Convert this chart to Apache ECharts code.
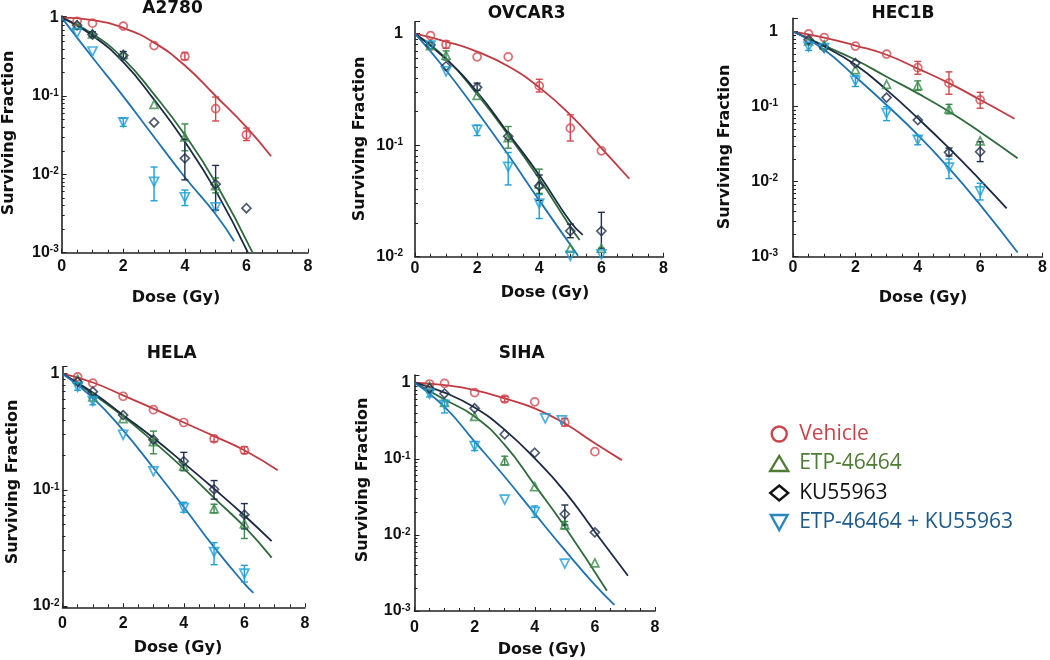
<!DOCTYPE html>
<html>
<head>
<meta charset="utf-8">
<title>Surviving fraction</title>
<script src="https://cdn.jsdelivr.net/npm/echarts@6/dist/echarts.min.js"></script>
<style>
html, body { margin: 0; padding: 0; background: #fff; }
#chart { width: 1050px; height: 660px; }
</style>
</head>
<body>
<div id="chart"></div>
<script>
// points: [dose, surviving fraction, error low, error high]
// fits: [dose, surviving fraction]
var A2780_VEH = [[0.5, 0.90], [1, 0.85], [2, 0.78], [3, 0.44], [4, 0.32, 0.29, 0.36], [5, 0.069, 0.048, 0.097], [6, 0.032, 0.027, 0.039]];
var A2780_ETP = [[0.5, 0.80], [1, 0.62], [2, 0.34], [3, 0.078], [4, 0.030, 0.020, 0.044], [5, 0.0072, 0.0058, 0.009]];
var A2780_KU = [[0.5, 0.80], [1, 0.61, 0.57, 0.66], [2, 0.33, 0.30, 0.37], [3, 0.046], [4, 0.016, 0.0085, 0.028], [5, 0.0075, 0.0035, 0.013], [6, 0.0037]];
var A2780_COMBO = [[0.5, 0.64], [1, 0.37], [2, 0.046, 0.041, 0.052], [3, 0.008, 0.0046, 0.0124], [4, 0.0051, 0.004, 0.0063], [5, 0.0038]];
var A2780_VEH_FIT = [[0, 1], [1, 0.93], [2, 0.74], [3, 0.48], [4, 0.245], [5, 0.10], [6, 0.040], [6.8, 0.017]];
var A2780_ETP_FIT = [[0, 1], [1, 0.62], [2, 0.30], [3, 0.105], [4, 0.032], [5, 0.0078], [6.2, 0.001]];
var A2780_KU_FIT = [[0, 1], [1, 0.59], [2, 0.27], [3, 0.09], [4, 0.026], [5, 0.0062], [6.05, 0.001]];
var A2780_COMBO_FIT = [[0, 1], [1, 0.31], [2, 0.099], [3, 0.030], [4, 0.0092], [5, 0.0031], [5.6, 0.0014]];

var OVCAR3_VEH = [[0.5, 0.96], [1, 0.80, 0.74, 0.86], [2, 0.62], [3, 0.62], [4, 0.34, 0.30, 0.39], [5, 0.142, 0.109, 0.187], [6, 0.089]];
var OVCAR3_ETP = [[0.5, 0.78], [1, 0.64, 0.58, 0.70], [2, 0.28], [3, 0.117, 0.094, 0.147], [4, 0.045, 0.037, 0.061], [5, 0.0119], [6, 0.0119]];
var OVCAR3_KU = [[0.5, 0.79], [1, 0.51], [2, 0.33, 0.31, 0.36], [3, 0.12], [4, 0.043, 0.032, 0.054], [5, 0.017, 0.0148, 0.0196], [6, 0.017, 0.0119, 0.025]];
var OVCAR3_COMBO = [[0.5, 0.78], [1, 0.46], [2, 0.137, 0.122, 0.151], [3, 0.064, 0.044, 0.086], [4, 0.030, 0.022, 0.036], [5, 0.0102], [6, 0.0105]];
var OVCAR3_VEH_FIT = [[0, 1], [1, 0.85], [2, 0.69], [3, 0.51], [4, 0.33], [5, 0.187], [6, 0.094], [6.9, 0.050]];
var OVCAR3_ETP_FIT = [[0, 1], [1, 0.60], [2, 0.286], [3, 0.124], [4, 0.050], [5, 0.0186], [5.3, 0.0141]];
var OVCAR3_KU_FIT = [[0, 1], [1, 0.59], [2, 0.30], [3, 0.128], [4, 0.054], [5, 0.0206], [5.4, 0.0157]];
var OVCAR3_COMBO_FIT = [[0, 1], [1, 0.47], [2, 0.20], [3, 0.082], [4, 0.032], [5.25, 0.0102]];

var HEC1B_VEH = [[0.5, 0.93], [1, 0.83], [2, 0.64], [3, 0.50], [4, 0.33, 0.27, 0.40], [5, 0.205, 0.146, 0.29], [6, 0.123, 0.095, 0.155]];
var HEC1B_ETP = [[0.5, 0.75], [1, 0.665], [2, 0.31], [3, 0.198], [4, 0.19, 0.165, 0.22], [5, 0.093, 0.08, 0.107], [6, 0.035]];
var HEC1B_KU = [[0.5, 0.775], [1, 0.61], [2, 0.38], [3, 0.132], [4, 0.066], [5, 0.0246, 0.022, 0.028], [6, 0.025, 0.0185, 0.034]];
var HEC1B_COMBO = [[0.5, 0.63, 0.56, 0.70], [1, 0.60], [2, 0.22, 0.185, 0.26], [3, 0.082, 0.065, 0.10], [4, 0.036, 0.031, 0.041], [5, 0.0154, 0.011, 0.020], [6, 0.0074, 0.0057, 0.0095]];
var HEC1B_VEH_FIT = [[0, 1], [1, 0.83], [2, 0.65], [3, 0.49], [4, 0.32], [5, 0.205], [6, 0.123], [7.1, 0.069]];
var HEC1B_ETP_FIT = [[0, 1], [1, 0.65], [2, 0.42], [3, 0.25], [4, 0.15], [5, 0.086], [6, 0.046], [7.2, 0.0205]];
var HEC1B_KU_FIT = [[0, 1], [1, 0.63], [2, 0.36], [3, 0.167], [4, 0.070], [5, 0.0279], [6, 0.0105], [6.85, 0.0044]];
var HEC1B_COMBO_FIT = [[0, 1], [1, 0.57], [2, 0.25], [3, 0.105], [4, 0.042], [5, 0.0151], [6, 0.0049], [7.2, 0.00114]];

var HELA_VEH = [[0.5, 0.94], [1, 0.83], [2, 0.64], [3, 0.49], [4, 0.38], [5, 0.275, 0.26, 0.29], [6, 0.219, 0.205, 0.235]];
var HELA_ETP = [[0.5, 0.90], [1, 0.63], [2, 0.41], [3, 0.26, 0.204, 0.32], [4, 0.16], [5, 0.0686, 0.063, 0.075], [6, 0.051, 0.038, 0.060]];
var HELA_KU = [[0.5, 0.85], [1, 0.70], [2, 0.44], [3, 0.27], [4, 0.176, 0.146, 0.21], [5, 0.101, 0.083, 0.12], [6, 0.061, 0.046, 0.076]];
var HELA_COMBO = [[0.5, 0.77, 0.72, 0.82], [1, 0.58, 0.54, 0.62], [2, 0.298], [3, 0.144], [4, 0.0695, 0.064, 0.078], [5, 0.029, 0.0226, 0.035], [6, 0.0189, 0.016, 0.0223]];
var HELA_VEH_FIT = [[0, 1], [1, 0.84], [2, 0.65], [3, 0.50], [4, 0.38], [5, 0.29], [6, 0.219], [7.1, 0.147]];
var HELA_ETP_FIT = [[0, 1], [1, 0.67], [2, 0.43], [3, 0.26], [4, 0.152], [5, 0.085], [6, 0.048], [6.9, 0.026]];
var HELA_KU_FIT = [[0, 1], [1, 0.69], [2, 0.44], [3, 0.279], [4, 0.17], [5, 0.102], [6, 0.060], [6.9, 0.036]];
var HELA_COMBO_FIT = [[0, 1], [1, 0.62], [2, 0.325], [3, 0.154], [4, 0.071], [5, 0.032], [6, 0.0155], [6.3, 0.0129]];

var SIHA_VEH = [[0.5, 0.96], [1, 0.98], [2, 0.74], [3, 0.61, 0.56, 0.66], [4, 0.56], [5, 0.30, 0.27, 0.34], [6, 0.124]];
var SIHA_ETP = [[0.5, 0.90], [1, 0.55], [2, 0.36], [3, 0.094, 0.083, 0.108], [4, 0.043], [5, 0.0135, 0.012, 0.015], [6, 0.0043]];
var SIHA_KU = [[0.5, 0.84], [1, 0.72], [2, 0.46], [3, 0.21], [4, 0.12], [5, 0.0188, 0.0135, 0.0247], [6, 0.0108]];
var SIHA_COMBO = [[0.5, 0.72, 0.65, 0.78], [1, 0.51, 0.40, 0.59], [2, 0.147, 0.128, 0.168], [3, 0.029], [4, 0.020, 0.017, 0.024], [4.35, 0.34], [4.9, 0.32], [5, 0.0042]];
var SIHA_VEH_FIT = [[0, 1], [1, 0.93], [2, 0.80], [3, 0.62], [4, 0.46], [5, 0.29], [6, 0.16], [6.9, 0.096]];
var SIHA_ETP_FIT = [[0, 1], [1, 0.60], [2, 0.36], [3, 0.152], [4, 0.045], [5, 0.0128], [6.4, 0.00185]];
var SIHA_KU_FIT = [[0, 1], [1, 0.74], [2, 0.47], [3, 0.24], [4, 0.101], [5, 0.037], [6, 0.011], [7.1, 0.0029]];
var SIHA_COMBO_FIT = [[0, 1], [1, 0.48], [2, 0.168], [3, 0.058], [4, 0.019], [5, 0.0063], [6, 0.0022], [6.65, 0.0012]];

var TREATMENTS = ['Vehicle', 'ETP-46464', 'KU55963', 'ETP-46464 + KU55963'];

// look of each treatment
var STYLES = [
    { symbol: 'circle', size: 8, mark: '#d2474f', line: '#c03a42', icon: 'circle', text: '#c8454c' },
    { symbol: 'triangle', size: 8, mark: '#3c8a4c', line: '#2f6a3d', icon: 'triangle', text: '#4f7c34' },
    { symbol: 'diamond', size: 9, mark: '#22304c', line: '#1c2a44', icon: 'diamond', text: '#111' },
    { symbol: 'path://M0,0L10,0L5,9Z', size: 9, mark: '#1f9fd4', line: '#1f72b1', icon: 'path://M0,0L10,0L5,9Z', text: '#1c5a8c' }
];

// panel layout
var PANELS = [
    { title: 'A2780', data: [A2780_VEH, A2780_ETP, A2780_KU, A2780_COMBO], fit: [A2780_VEH_FIT, A2780_ETP_FIT, A2780_KU_FIT, A2780_COMBO_FIT],
      grid: { left: 61.7, top: 16, width: 246.3, height: 236.7 }, ymin: 0.001, ymax: 1.05, ym: 3, xm: 6,
      t: [172.5, 9], yn: [9, 133], xn: [176, 298] },
    { title: 'OVCAR3', data: [OVCAR3_VEH, OVCAR3_ETP, OVCAR3_KU, OVCAR3_COMBO], fit: [OVCAR3_VEH_FIT, OVCAR3_ETP_FIT, OVCAR3_KU_FIT, OVCAR3_COMBO_FIT],
      grid: { left: 415, top: 21.7, width: 248.5, height: 235 }, ymin: 0.01, ymax: 1.28, ym: 12, xm: 3.5,
      t: [526.7, 13.3], yn: [360, 139], xn: [545, 293] },
    { title: 'HEC1B', data: [HEC1B_VEH, HEC1B_ETP, HEC1B_KU, HEC1B_COMBO], fit: [HEC1B_VEH_FIT, HEC1B_ETP_FIT, HEC1B_KU_FIT, HEC1B_COMBO_FIT],
      grid: { left: 793, top: 18.3, width: 253, height: 238.4 }, ymin: 0.001, ymax: 1.5, ym: 15, xm: 2.5,
      t: [903, 13.3], yn: [725, 147], xn: [923, 298] },
    { title: 'HELA', data: [HELA_VEH, HELA_ETP, HELA_KU, HELA_COMBO], fit: [HELA_VEH_FIT, HELA_ETP_FIT, HELA_KU_FIT, HELA_COMBO_FIT],
      grid: { left: 62.5, top: 366.7, width: 242.5, height: 240.6 }, ymin: 0.0097, ymax: 1.15, ym: 3, xm: 8.5,
      t: [171.7, 353.3], yn: [12.5, 482], xn: [178, 648] },
    { title: 'SIHA', data: [SIHA_VEH, SIHA_ETP, SIHA_KU, SIHA_COMBO], fit: [SIHA_VEH_FIT, SIHA_ETP_FIT, SIHA_KU_FIT, SIHA_COMBO_FIT],
      grid: { left: 414.5, top: 375, width: 240.5, height: 236 }, ymin: 0.001, ymax: 1.26, ym: 4, xm: 9,
      t: [521.7, 353.3], yn: [362.5, 480], xn: [542, 650] }
];

var AXIS_COLOR = '#222';
var BOLD = 'bold 16px "DejaVu Sans"';
var TITLE = 'bold 17px "DejaVu Sans"';

// only decades get a label, written as 10 with a superscript
function decadeLabel(v) {
    var l = Math.log10(v);
    var e = Math.round(l);
    if (Math.abs(l - e) > 1e-6) return '';
    return e === 0 ? '{b|1}' : '{b|10}{s|' + e + '}';
}

function errorBar(params, api) {
    var x = api.value(0);
    var top = api.coord([x, api.value(2)]);
    var bot = api.coord([x, api.value(1)]);
    var w = 3.5;
    var st = { stroke: api.visual('color'), lineWidth: 1.4 };
    return {
        type: 'group',
        children: [
            { type: 'line', shape: { x1: top[0], y1: top[1], x2: bot[0], y2: bot[1] }, style: st },
            { type: 'line', shape: { x1: top[0] - w, y1: top[1], x2: top[0] + w, y2: top[1] }, style: st },
            { type: 'line', shape: { x1: bot[0] - w, y1: bot[1], x2: bot[0] + w, y2: bot[1] }, style: st }
        ]
    };
}

var grids = [], xAxes = [], yAxes = [], series = [], texts = [];

PANELS.forEach(function (p, i) {
    grids.push(p.grid);
    xAxes.push({
        type: 'value', gridIndex: i, min: 0, max: 8, interval: 2,
        axisLine: { onZero: false, lineStyle: { color: AXIS_COLOR, width: 1.6 } },
        axisTick: { inside: true, length: 4, lineStyle: { color: AXIS_COLOR } },
        minorTick: { show: true, splitNumber: 4, length: 3, lineStyle: { color: AXIS_COLOR } },
        splitLine: { show: false },
        axisLabel: { margin: p.xm, color: '#111', fontFamily: 'Liberation Sans', fontWeight: 'bold', fontSize: 16 }
    });
    yAxes.push({
        type: 'log', logBase: 10, gridIndex: i, min: p.ymin, max: p.ymax,
        axisLine: { show: true, lineStyle: { color: AXIS_COLOR, width: 1.6 } },
        axisTick: { show: true, inside: true, length: 5, lineStyle: { color: AXIS_COLOR } },
        minorTick: { show: true, splitNumber: 9, length: 3, lineStyle: { color: AXIS_COLOR } },
        splitLine: { show: false },
        axisLabel: {
            margin: p.ym, formatter: decadeLabel,
            rich: {
                b: { fontFamily: 'Liberation Sans', fontWeight: 'bold', fontSize: 16, color: '#111', verticalAlign: 'bottom' },
                s: { fontFamily: 'Liberation Sans', fontWeight: 'bold', fontSize: 10, color: '#111', verticalAlign: 'top' }
            }
        }
    });
    TREATMENTS.forEach(function (name, k) {
        var s = STYLES[k];
        series.push({
            type: 'line', name: name, xAxisIndex: i, yAxisIndex: i,
            data: p.fit[k], smooth: 0.5, showSymbol: false, z: 2,
            lineStyle: { color: s.line, width: 1.8 }, itemStyle: { color: s.line }
        });
        series.push({
            type: 'custom', name: name, xAxisIndex: i, yAxisIndex: i, z: 3,
            renderItem: errorBar,
            itemStyle: { color: s.mark },
            encode: { x: 0, y: [1, 2] },
            data: p.data[k].filter(function (d) { return d.length > 2; }).map(function (d) { return [d[0], d[2], d[3]]; })
        });
        series.push({
            type: 'scatter', name: name, xAxisIndex: i, yAxisIndex: i, z: 4,
            symbol: s.symbol, symbolSize: s.size,
            itemStyle: { color: 'rgba(255,255,255,0)', borderColor: s.mark, borderWidth: 1.7 },
            data: p.data[k].map(function (d) { return [d[0], d[1]]; })
        });
    });
    texts.push({ type: 'text', x: p.t[0], y: p.t[1], style: { text: p.title, font: TITLE, fill: '#111', textAlign: 'center', textVerticalAlign: 'middle' } });
    texts.push({ type: 'text', x: p.xn[0], y: p.xn[1], style: { text: 'Dose (Gy)', font: BOLD, fill: '#111', textAlign: 'center', textVerticalAlign: 'middle' } });
    texts.push({ type: 'text', x: p.yn[0], y: p.yn[1], rotation: Math.PI / 2, style: { text: 'Surviving Fraction', font: BOLD, fill: '#111', textAlign: 'center', textVerticalAlign: 'middle' } });
});

var chart = echarts.init(document.getElementById('chart'), null, { renderer: 'canvas' });
chart.setOption({
    backgroundColor: '#fff',
    animation: false,
    grid: grids,
    xAxis: xAxes,
    yAxis: yAxes,
    legend: {
        orient: 'vertical', left: 764, top: 417,
        itemWidth: 18, itemHeight: 15, itemGap: 5.5,
        selectedMode: false,
        textStyle: { fontFamily: 'Open Sans', fontSize: 21, lineHeight: 24, padding: [0, 0, 0, 6] },
        data: TREATMENTS.map(function (name, k) {
            return {
                name: name, icon: STYLES[k].icon,
                itemStyle: { color: 'rgba(255,255,255,0)', borderColor: k === 3 ? '#2a86c0' : STYLES[k].text, borderWidth: 2.4 },
                textStyle: { color: STYLES[k].text }
            };
        })
    },
    graphic: texts,
    series: series
});
</script>
</body>
</html>
